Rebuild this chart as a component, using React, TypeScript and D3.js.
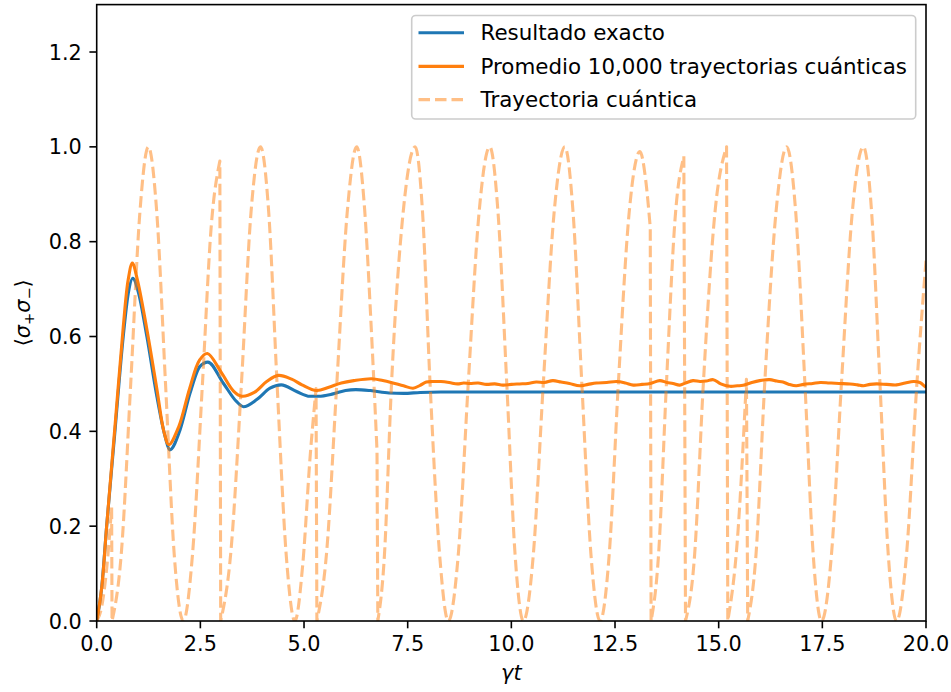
import React from "react";
import * as d3 from "d3";

// ---------------- data ----------------
const xTicks = [0, 2.5, 5, 7.5, 10, 12.5, 15, 17.5, 20];
const yTicks = [0, 0.2, 0.4, 0.6, 0.8, 1.0, 1.2];

const legendLabels = [
  "Resultado exacto",
  "Promedio 10,000 trayectorias cuánticas",
  "Trayectoria cuántica",
];

// exact result  [t, <σ+σ->]
const exactT = [0, 0.12, 0.24, 0.44, 0.64, 0.76, 0.87, 1.0, 1.21, 1.45, 1.65, 1.76, 2.01, 2.25, 2.49, 2.68, 3.05, 3.37, 3.54, 3.86, 4.18, 4.45, 4.82, 5.14, 5.35, 5.7, 6.0, 6.25, 6.6, 7.05, 7.4, 7.8, 8.3, 9.0, 20];
const exactV = [0, 0.07, 0.2, 0.4, 0.6, 0.69, 0.723, 0.695, 0.6, 0.474, 0.389, 0.361, 0.403, 0.48, 0.537, 0.546, 0.502, 0.463, 0.452, 0.467, 0.491, 0.498, 0.484, 0.474, 0.474, 0.479, 0.486, 0.488, 0.486, 0.481, 0.48, 0.482, 0.483, 0.483, 0.483];

// average of 10,000 trajectories
const avgT = [0, 0.12, 0.24, 0.44, 0.64, 0.76, 0.86, 0.98, 1.2, 1.45, 1.62, 1.74, 1.98, 2.24, 2.48, 2.67, 3.0, 3.3, 3.5, 3.8, 4.1, 4.38, 4.7, 4.95, 5.3, 5.6, 5.9, 6.2, 6.63, 6.9, 7.1, 7.4, 7.63, 7.8, 7.95, 8.1, 8.3, 8.5, 8.7, 8.85, 9.0, 9.2, 9.4, 9.6, 9.8, 10.0, 10.2, 10.4, 10.6, 10.8, 11.0, 11.2, 11.4, 11.65, 11.85, 12.05, 12.3, 12.54, 12.75, 12.94, 13.15, 13.35, 13.58, 13.75, 13.9, 14.06, 14.2, 14.38, 14.55, 14.7, 14.87, 15.05, 15.27, 15.45, 15.59, 15.8, 15.99, 16.23, 16.4, 16.55, 16.7, 16.87, 17.05, 17.27, 17.45, 17.67, 17.9, 18.17, 18.35, 18.49, 18.65, 18.81, 19.05, 19.29, 19.5, 19.7, 19.85, 19.97, 20];
const avgV = [0, 0.07, 0.2, 0.41, 0.62, 0.72, 0.755, 0.72, 0.62, 0.49, 0.4, 0.372, 0.41, 0.49, 0.55, 0.564, 0.525, 0.485, 0.474, 0.482, 0.505, 0.518, 0.51, 0.498, 0.486, 0.493, 0.502, 0.507, 0.511, 0.507, 0.503, 0.496, 0.491, 0.497, 0.504, 0.505, 0.505, 0.503, 0.5, 0.502, 0.501, 0.502, 0.499, 0.5, 0.4975, 0.499, 0.5, 0.501, 0.504, 0.503, 0.507, 0.504, 0.501, 0.496, 0.499, 0.502, 0.503, 0.505, 0.502, 0.4975, 0.499, 0.501, 0.507, 0.503, 0.501, 0.4975, 0.502, 0.507, 0.505, 0.506, 0.509, 0.5, 0.495, 0.496, 0.497, 0.503, 0.507, 0.509, 0.506, 0.504, 0.499, 0.496, 0.499, 0.501, 0.503, 0.502, 0.501, 0.5, 0.498, 0.496, 0.499, 0.5, 0.499, 0.498, 0.502, 0.505, 0.503, 0.495, 0.493];

// single quantum trajectory, split at each quantum jump
const trajSegA: [number, number][] = [[0, 0], [0.12, 0.03], [0.24, 0.11], [0.36, 0.24]];
const trajSegB: [number, number][] = [[0.37, 0], [0.6, 0.15], [0.82, 0.5], [1.04, 0.86], [1.245, 1.0], [1.45, 0.86], [1.66, 0.5], [1.87, 0.14], [2.09, 0], [2.31, 0.14], [2.55, 0.5], [2.76, 0.83], [2.97, 0.97]];
const trajSegC: [number, number][] = [[2.99, 0], [3.24, 0.15], [3.49, 0.5], [3.72, 0.86], [3.95, 1.0], [4.15, 0.86], [4.35, 0.5], [4.57, 0.14], [4.78, 0], [4.97, 0.12], [5.15, 0.35], [5.29, 0.49]];
const trajSegD: [number, number][] = [[5.31, 0], [5.55, 0.15], [5.79, 0.5], [6.04, 0.86], [6.27, 1.0], [6.46, 0.87], [6.62, 0.62], [6.76, 0.36]];
const trajSegE: [number, number][] = [[6.78, 0], [6.94, 0.14], [7.11, 0.5], [7.4, 0.87], [7.68, 1.0], [7.86, 0.86], [8.04, 0.5], [8.27, 0.14], [8.48, 0], [8.72, 0.14], [8.96, 0.5], [9.22, 0.86], [9.48, 1.0], [9.68, 0.86], [9.89, 0.5], [10.09, 0.14], [10.29, 0], [10.53, 0.14], [10.77, 0.5], [11.03, 0.86], [11.29, 1.0], [11.49, 0.86], [11.7, 0.5], [11.92, 0.14], [12.14, 0], [12.36, 0.14], [12.58, 0.5], [12.84, 0.86], [13.1, 0.99], [13.24, 0.93], [13.35, 0.83]];
const trajSegF: [number, number][] = [[13.37, 0], [13.55, 0.14], [13.74, 0.5], [13.95, 0.85], [14.16, 0.98]];
const trajSegG: [number, number][] = [[14.2, 0], [14.42, 0.14], [14.63, 0.5], [14.92, 0.87], [15.19, 1.0]];
const trajSegH: [number, number][] = [[15.22, 0], [15.45, 0.17], [15.67, 0.51]];
const trajSegI: [number, number][] = [[15.7, 0], [15.9, 0.14], [16.11, 0.5], [16.38, 0.86], [16.64, 1.0], [16.86, 0.86], [17.08, 0.5], [17.28, 0.14], [17.48, 0], [17.72, 0.14], [17.96, 0.5], [18.22, 0.86], [18.49, 1.0], [18.69, 0.86], [18.89, 0.5], [19.09, 0.14], [19.29, 0], [19.53, 0.14], [19.78, 0.5], [20.0, 0.76]];
const trajSegments = [trajSegA, trajSegB, trajSegC, trajSegD, trajSegE, trajSegF, trajSegG, trajSegH, trajSegI];

// ---------------- layout ----------------
const W = 951;
const H = 692;
const L = 96.7;
const R = 926;
const T = 4.6;
const B = 621;
const FONT = "DejaVu Sans, Verdana, sans-serif";
const FS = 20.8;
const FS_LEG = 21.4;
const BLUE = "#1f77b4";
const ORANGE = "#ff7f0e";

export default function App() {
  const x = d3.scaleLinear().domain([0, 20]).range([L, R]);
  const y = d3.scaleLinear().domain([0, 1.3]).range([B, T]);

  const exactPath =
    d3
      .line<[number, number]>()
      .x((d) => x(d[0]))
      .y((d) => y(d[1]))
      .curve(d3.curveMonotoneX)(exactT.map((t, i) => [t, exactV[i]] as [number, number])) || "";
  const avgPath =
    d3
      .line<[number, number]>()
      .x((d) => x(d[0]))
      .y((d) => y(d[1]))
      .curve(d3.curveCatmullRom.alpha(0.5))(avgT.map((t, i) => [t, avgV[i]] as [number, number])) || "";

  const segLine = d3
    .line<[number, number]>()
    .x((d) => x(d[0]))
    .y((d) => y(d[1]))
    .curve(d3.curveMonotoneX);
  const trajPath = trajSegments
    .map((seg, i) => {
      const s = segLine(seg) || "";
      return i === 0 ? s : "L" + s.slice(1);
    })
    .join("");

  const tickLen = 7.3;
  const tickW = 1.6;
  const lw = 3.1;

  // legend
  const lgX0 = 411.7;
  const lgY0 = 15.5;
  const lgW = 504;
  const lgH = 103.5;
  const rowY = [32.8, 66.4, 99.6];
  const rowColor = [BLUE, ORANGE, ORANGE];

  return (
    <svg
      width={W}
      height={H}
      viewBox={`0 0 ${W} ${H}`}
      style={{ position: "absolute", left: 0, top: 0, background: "#fff" }}
      fontFamily={FONT}
    >
      <rect x={0} y={0} width={W} height={H} fill="#fff" />
      <defs>
        <clipPath id="plotclip">
          <rect x={L} y={T} width={R - L} height={B - T} />
        </clipPath>
      </defs>

      <g clipPath="url(#plotclip)">
        <path d={exactPath} fill="none" stroke={BLUE} strokeWidth={lw} strokeLinejoin="round" />
        <path d={avgPath} fill="none" stroke={ORANGE} strokeWidth={lw} strokeLinejoin="round" />
        <path
          d={trajPath}
          fill="none"
          stroke={ORANGE}
          strokeOpacity={0.5}
          strokeWidth={lw}
          strokeDasharray="11.5 5"
          strokeLinejoin="round"
        />
      </g>

      {/* spines */}
      <rect x={L} y={T} width={R - L} height={B - T} fill="none" stroke="#000" strokeWidth={tickW} />

      {/* x ticks */}
      {xTicks.map((t) => (
        <g key={"xt" + t}>
          <line x1={x(t)} x2={x(t)} y1={B} y2={B + tickLen} stroke="#000" strokeWidth={tickW} />
          <text x={x(t)} y={B + tickLen + 23} fontSize={FS} textAnchor="middle" fill="#000">
            {t.toFixed(1)}
          </text>
        </g>
      ))}
      {/* y ticks */}
      {yTicks.map((t) => (
        <g key={"yt" + t}>
          <line x1={L - tickLen} x2={L} y1={y(t)} y2={y(t)} stroke="#000" strokeWidth={tickW} />
          <text x={L - tickLen - 7.6} y={y(t) + 7.6} fontSize={FS} textAnchor="end" fill="#000">
            {t.toFixed(1)}
          </text>
        </g>
      ))}

      {/* axis labels */}
      <text x={(L + R) / 2} y={680} fontSize={FS} textAnchor="middle" fontStyle="italic" fill="#000">
        γt
      </text>
      <g transform={`translate(30, ${(T + B) / 2}) rotate(-90)`}>
        <text x={0} y={0} fontSize={FS} textAnchor="middle" fill="#000">
          <tspan>⟨</tspan>
          <tspan fontStyle="italic">σ</tspan>
          <tspan fontSize={FS * 0.7} dy={3.5}>+</tspan>
          <tspan fontStyle="italic" dy={-3.5}>σ</tspan>
          <tspan fontSize={FS * 0.7} dy={3.5}>−</tspan>
          <tspan dy={-3.5}>⟩</tspan>
        </text>
      </g>

      {/* legend */}
      <rect
        x={lgX0}
        y={lgY0}
        width={lgW}
        height={lgH}
        rx={4}
        ry={4}
        fill="#fff"
        fillOpacity={0.8}
        stroke="#cccccc"
        strokeWidth={1.6}
      />
      {legendLabels.map((lab, i) => (
        <g key={lab}>
          <line
            x1={418.5}
            x2={464}
            y1={rowY[i]}
            y2={rowY[i]}
            stroke={rowColor[i]}
            strokeOpacity={i === 2 ? 0.5 : 1}
            strokeWidth={lw}
            strokeDasharray={i === 2 ? "11.5 5" : undefined}
          />
          <text x={480.5} y={rowY[i] + 7.6} fontSize={FS_LEG} fill="#000">
            {lab}
          </text>
        </g>
      ))}
    </svg>
  );
}
